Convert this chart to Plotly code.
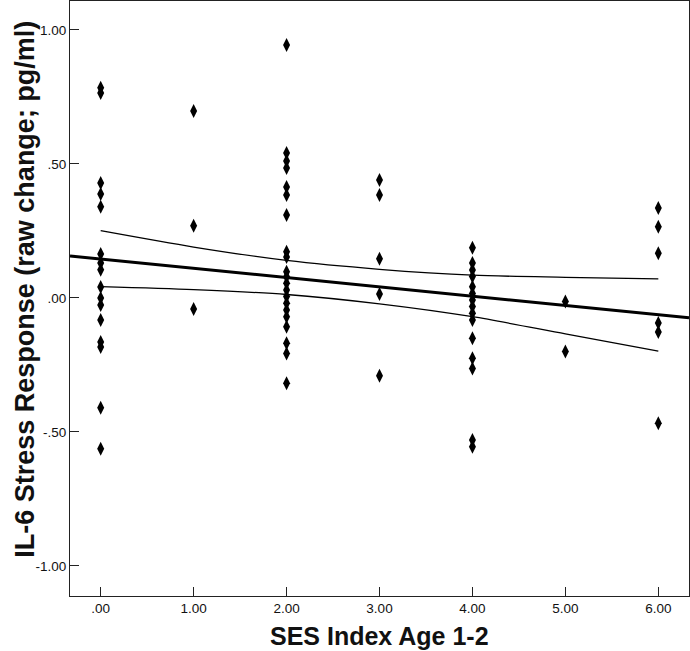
import plotly.graph_objects as go

# ---- data ----
ses_0 = [0.784, 0.765, 0.429, 0.388, 0.340, 0.164, 0.130, 0.105, 0.041, 0.000,
         -0.026, -0.082, -0.164, -0.183, -0.410, -0.563]
ses_1 = [0.698, 0.269, -0.041]
ses_2 = [0.944, 0.541, 0.511, 0.485, 0.414, 0.384, 0.310, 0.172, 0.153, 0.098,
         0.079, 0.055, 0.030, 0.005, -0.020, -0.045, -0.070, -0.107, -0.169,
         -0.207, -0.318]
ses_3 = [0.440, 0.384, 0.146, 0.015, -0.290]
ses_4 = [0.187, 0.130, 0.104, 0.080, 0.042, 0.017, -0.008, -0.032, -0.057,
         -0.082, -0.150, -0.225, -0.263, -0.530, -0.555]
ses_5 = [-0.013, -0.200]
ses_6 = [0.336, 0.266, 0.167, -0.093, -0.127, -0.467]
groups = [(0, ses_0), (1, ses_1), (2, ses_2), (3, ses_3), (4, ses_4), (5, ses_5), (6, ses_6)]

fit_x = [-0.33, 6.33]
fit_y = [0.157, -0.074]

ci_x = [0, 1, 2, 3, 4, 5, 6]
ci_upper = [0.251, 0.190, 0.140, 0.107, 0.085, 0.077, 0.071]
ci_lower = [0.042, 0.031, 0.013, -0.022, -0.070, -0.134, -0.198]

y_tickvals = [1.0, 0.5, 0.0, -0.5, -1.0]
y_ticktext = ["1.00", ".50", ".00", "-.50", "-1.00"]
x_tickvals = [0, 1, 2, 3, 4, 5, 6]
x_ticktext = [".00", "1.00", "2.00", "3.00", "4.00", "5.00", "6.00"]

x_title = "SES Index Age 1-2"
y_title = "IL-6 Stress Response (raw change; pg/ml)"

xs, ys = [], []
for xv, vals in groups:
    xs += [xv] * len(vals)
    ys += vals

fig = go.Figure()
fig.add_trace(go.Scatter(x=xs, y=ys, mode="markers",
                         marker=dict(symbol="diamond-tall", size=10, color="black",
                                     line=dict(width=0)),
                         showlegend=False, hoverinfo="skip"))
fig.add_trace(go.Scatter(x=ci_x, y=ci_upper, mode="lines",
                         line=dict(color="black", width=1.3, shape="spline", smoothing=0.8),
                         showlegend=False, hoverinfo="skip"))
fig.add_trace(go.Scatter(x=ci_x, y=ci_lower, mode="lines",
                         line=dict(color="black", width=1.3, shape="spline", smoothing=0.8),
                         showlegend=False, hoverinfo="skip"))
fig.add_trace(go.Scatter(x=fit_x, y=fit_y, mode="lines",
                         line=dict(color="black", width=3),
                         showlegend=False, hoverinfo="skip"))

axis_common = dict(showgrid=False, zeroline=False, showline=True, linecolor="#222",
                   linewidth=1, mirror=True, ticks="inside", ticklen=9, tickwidth=1,
                   tickcolor="#222", tickfont=dict(family="Liberation Sans, Arial", size=13.5,
                                                   color="#111"))

fig.update_xaxes(range=[-0.33, 6.33], tickmode="array", tickvals=x_tickvals,
                 ticktext=x_ticktext, **axis_common)
fig.update_yaxes(range=[-1.112, 1.108], tickmode="array", tickvals=y_tickvals,
                 ticktext=y_ticktext, **axis_common)

fig.update_layout(
    width=690, height=651,
    margin=dict(l=70, r=1, t=1, b=55),
    paper_bgcolor="white", plot_bgcolor="white",
    annotations=[
        dict(text="<b>" + x_title + "</b>", xref="paper", yref="paper",
             x=0.5, y=-0.067, xanchor="center", yanchor="middle", showarrow=False,
             font=dict(family="Liberation Sans, Arial", size=25, color="#111")),
        dict(text="<b>" + y_title + "</b>", xref="paper", yref="paper",
             x=-0.074, y=0.515, xanchor="center", yanchor="middle", showarrow=False,
             textangle=-90,
             font=dict(family="Liberation Sans, Arial", size=27, color="#111")),
    ],
)

fig.write_html("out.html", config={"displayModeBar": False},
               post_script="document.body.style.margin='0';document.body.style.overflow='hidden';")
